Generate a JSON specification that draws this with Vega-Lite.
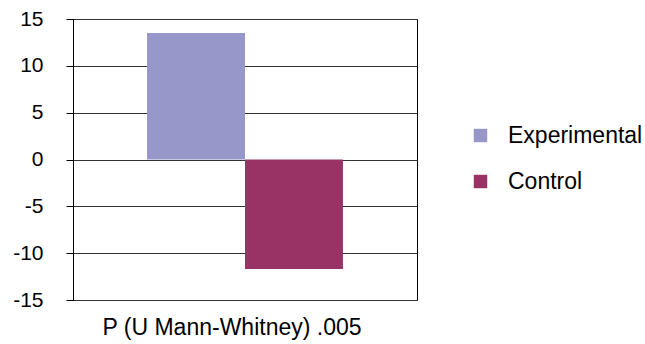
{
  "$schema": "https://vega.github.io/schema/vega-lite/v6.json",
  "width": 344,
  "height": 281,
  "autosize": "none",
  "padding": {"left": 73, "top": 19, "right": 228, "bottom": 44},
  "background": "#ffffff",
  "data": {
    "values": [
      {"test": "P (U Mann-Whitney) .005", "group": "Experimental", "value": 13.5},
      {"test": "P (U Mann-Whitney) .005", "group": "Control", "value": -11.7}
    ]
  },
  "mark": {"type": "bar"},
  "encoding": {
    "x": {
      "field": "test",
      "type": "nominal",
      "title": null,
      "scale": {"paddingInner": 0, "paddingOuter": 0.378},
      "axis": {
        "labelAngle": 0,
        "ticks": false,
        "domain": false,
        "labelFontSize": 23,
        "labelPadding": 16,
        "labelLimit": 0,
        "labelOffset": -13,
        "labelColor": "#000000",
        "labelFont": "Liberation Sans"
      }
    },
    "xOffset": {
      "field": "group",
      "sort": ["Experimental", "Control"],
      "scale": {"paddingInner": 0, "paddingOuter": 0}
    },
    "y": {
      "field": "value",
      "type": "quantitative",
      "scale": {"domain": [-15, 15], "nice": false, "zero": false},
      "axis": {
        "values": [-15, -10, -5, 0, 5, 10, 15],
        "labelExpr": "'' + datum.value",
        "title": null,
        "tickSize": 7,
        "tickColor": "#000000",
        "domainColor": "#000000",
        "gridColor": "#333333",
        "gridOpacity": 1,
        "labelFontSize": 21,
        "labelPadding": 23,
        "labelColor": "#000000",
        "labelFont": "Liberation Sans"
      }
    },
    "color": {
      "field": "group",
      "type": "nominal",
      "scale": {"domain": ["Experimental", "Control"], "range": ["#9797C9", "#993366"]},
      "legend": {
        "title": null,
        "orient": "none",
        "legendX": 396,
        "legendY": 105,
        "symbolType": "square",
        "symbolSize": 180,
        "symbolStrokeWidth": 0,
        "labelFontSize": 23,
        "labelFont": "Liberation Sans",
        "labelColor": "#000000",
        "rowPadding": 22,
        "labelOffset": 16,
        "labelLimit": 0
      }
    }
  },
  "config": {
    "view": {"stroke": "#000000", "strokeWidth": 1},
    "font": "Liberation Sans"
  }
}
